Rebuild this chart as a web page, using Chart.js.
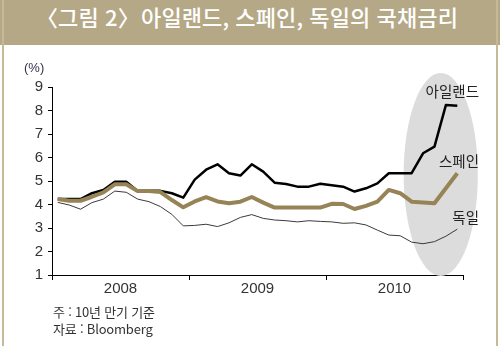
<!DOCTYPE html>
<html lang="ko">
<head>
<meta charset="UTF-8">
<title>아일랜드, 스페인, 독일의 국채금리</title>
<script src="https://cdn.jsdelivr.net/npm/chart.js"></script>
<style>
    html, body { margin: 0; padding: 0; background: #fff; }
    #frame { position: relative; width: 500px; height: 346px; overflow: hidden; }
    #title {
        position: absolute; left: 0; top: 0; width: 500px; height: 45px;
        background: #b5a886; color: #fff; text-align: center; line-height: 45px;
        font: 500 22px "Noto Sans CJK KR", sans-serif; letter-spacing: 0.1px;
    }
    #title .ob { margin-left: -6px; }
    #title .cb { margin-right: -5px; }
    .edge { position: absolute; top: 0; width: 2px; height: 346px; background: #c6b995; }
    #chart { position: absolute; left: 0; top: 0; }
    #unit { position: absolute; left: 24px; top: 60px; font: 13px "Liberation Sans", sans-serif; color: #33334d; }
    .note { position: absolute; left: 53px; font: 13px "Noto Sans CJK KR", sans-serif; color: #333; letter-spacing: -0.2px; }
</style>
</head>
<body>
<div id="frame">
    <div id="title"><span class="ob">〈</span>그림 2<span class="cb">〉</span> 아일랜드, 스페인, 독일의 국채금리</div>
    <div class="edge" style="left:2px"></div>
    <div class="edge" style="left:496px"></div>
    <canvas id="chart" width="500" height="346"></canvas>
    <div id="unit">(%)</div>
    <div class="note" style="top:302px">주 : 10년 만기 기준</div>
    <div class="note" style="top:319px">자료 : Bloomberg</div>
</div>
<script>
    // monthly 10y yields, Jan 2008 - Dec 2010
    const years = ['2008', '2009', '2010'];
    const ireland = [4.23, 4.23, 4.23, 4.48, 4.62, 4.97, 4.97, 4.58, 4.58, 4.58, 4.48, 4.29,
                     5.06, 5.48, 5.71, 5.33, 5.23, 5.71, 5.40, 4.93, 4.87, 4.76, 4.76, 4.88,
                     4.82, 4.76, 4.55, 4.69, 4.90, 5.33, 5.33, 5.33, 6.18, 6.46, 8.23, 8.20];
    const spain = [4.23, 4.16, 4.16, 4.33, 4.52, 4.86, 4.86, 4.57, 4.57, 4.53, 4.19, 3.88,
                   4.13, 4.31, 4.13, 4.05, 4.12, 4.32, 4.08, 3.87, 3.87, 3.87, 3.87, 3.87,
                   4.03, 4.02, 3.81, 3.94, 4.12, 4.62, 4.48, 4.12, 4.09, 4.05, 4.69, 5.33];
    const germany = [4.09, 3.98, 3.80, 4.08, 4.23, 4.57, 4.52, 4.23, 4.12, 3.91, 3.58, 3.09,
                     3.11, 3.16, 3.06, 3.22, 3.45, 3.57, 3.41, 3.34, 3.31, 3.26, 3.31, 3.28,
                     3.26, 3.20, 3.22, 3.13, 2.91, 2.70, 2.67, 2.40, 2.33, 2.42, 2.65, 2.95];
    const seriesNames = ['아일랜드', '스페인', '독일'];

    const toPoints = arr => arr.map((v, i) => ({ x: i + 0.5, y: v }));

    const textColor = '#333';
    const tickFont = { family: 'Liberation Sans', size: 15 };

    // grey ellipse behind the 2010 surge + line-end labels
    const highlight = {
        id: 'highlight',
        beforeDatasetsDraw(chart) {
            const { ctx, scales: { x, y } } = chart;
            const x0 = x.getPixelForValue(30.8), x1 = x.getPixelForValue(37.3);
            const y0 = y.getPixelForValue(9.6), y1 = y.getPixelForValue(0.96);
            ctx.save();
            ctx.fillStyle = '#dcdcdc';
            ctx.beginPath();
            ctx.ellipse((x0 + x1) / 2, (y0 + y1) / 2, (x1 - x0) / 2, (y1 - y0) / 2, 0, 0, Math.PI * 2);
            ctx.fill();
            ctx.restore();
        },
        afterDatasetsDraw(chart) {
            const { ctx, scales: { x, y } } = chart;
            const spots = [8.83, 5.85, 3.43];
            ctx.save();
            ctx.font = '14.5px "Noto Sans CJK KR"';
            ctx.fillStyle = '#222';
            ctx.textAlign = 'right';
            ctx.textBaseline = 'middle';
            seriesNames.forEach((name, i) => {
                ctx.fillText(name, x.getPixelForValue(37.4), y.getPixelForValue(spots[i]));
            });
            ctx.restore();
        }
    };

    new Chart(document.getElementById('chart').getContext('2d'), {
        type: 'line',
        data: {
            datasets: [
                { label: seriesNames[0], data: toPoints(ireland), borderColor: '#000', borderWidth: 2.5, order: 2 },
                { label: seriesNames[1], data: toPoints(spain), borderColor: '#968456', borderWidth: 4, order: 1 },
                { label: seriesNames[2], data: toPoints(germany), borderColor: '#3a3a3a', borderWidth: 1, order: 3 }
            ]
        },
        options: {
            responsive: false,
            animation: false,
            layout: { padding: { top: 87, right: 37, bottom: 49, left: 0 } },
            elements: { point: { radius: 0 }, line: { tension: 0, borderJoinStyle: 'round' } },
            plugins: { legend: { display: false }, tooltip: { enabled: false } },
            scales: {
                x: {
                    type: 'linear', min: 0, max: 36,
                    afterFit: s => { s.height = 22; },
                    ticks: {
                        stepSize: 6, autoSkip: false, maxRotation: 0, padding: 0,
                        font: tickFont, color: textColor,
                        callback: v => (v % 12 === 6 ? years[(v - 6) / 12] : '')
                    },
                    grid: {
                        drawOnChartArea: false, tickLength: 5,
                        color: c => (c.tick && c.tick.value % 12 === 0 ? '#000' : 'rgba(0,0,0,0)')
                    },
                    border: { color: '#000', width: 1 }
                },
                y: {
                    min: 1, max: 9,
                    afterFit: s => { s.width = 52; },
                    ticks: { stepSize: 1, padding: 5, font: tickFont, color: textColor },
                    grid: { drawOnChartArea: false, tickLength: 4, color: '#000' },
                    border: { color: '#000', width: 1 }
                }
            }
        },
        plugins: [highlight]
    });
</script>
</body>
</html>
